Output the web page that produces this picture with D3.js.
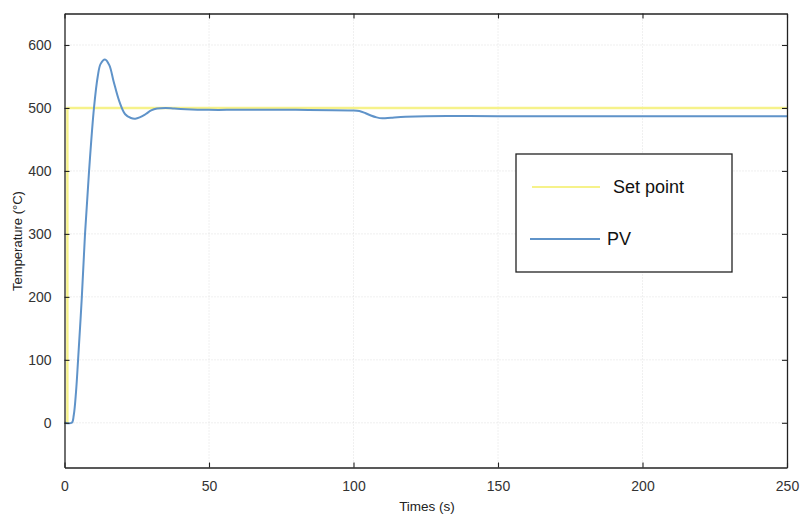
<!DOCTYPE html>
<html><head><meta charset="utf-8">
<script src="https://cdn.jsdelivr.net/npm/d3@7"></script>
<style>body{margin:0;background:#fff}svg{display:block}</style>
</head><body>
<svg id="c" width="800" height="515"></svg>
<script>
const spTime = [0, 1, 1, 250];
const spValue = [0, 0, 500, 500];
const pvTime = [0,2.5,3.2,4,4.7,6,7.1,8.5,10.2,11.5,12.5,14,15.5,17,19,21,23,24.5,26,28,30,32,35,38,42,50,60,80,100,102,104,106,108,110,113,118,125,150,200,250];
const pvValue = [0,0,12,50,100,200,300,400,500,550,570,577,568,542,510,490,484,483,485,490,496,499,500,499,498,497,497,497,496,495,492,488,485,483.5,484.5,486,487,487,487,487];
const xTicks = [0,50,100,150,200,250];
const yTicks = [0,100,200,300,400,500,600];
const seriesNames = ["Set point","PV"];

const svg = d3.select("#c");
const L=64.5, R=787, T=13.5, B=467.5;
const x = d3.scaleLinear().domain([0,250]).range([L,R]);
const y = d3.scaleLinear().domain([-71,650]).range([B,T]);

// grid
const g = svg.append("g");
g.selectAll(".gx").data(xTicks.slice(1,-1)).enter().append("line")
 .attr("x1",d=>x(d)).attr("x2",d=>x(d)).attr("y1",T).attr("y2",B)
 .attr("stroke","#d8d8d8").attr("stroke-width",0.8).attr("stroke-dasharray","1,2");
g.selectAll(".gy").data(yTicks).enter().append("line")
 .attr("y1",d=>y(d)).attr("y2",d=>y(d)).attr("x1",L).attr("x2",R)
 .attr("stroke","#d8d8d8").attr("stroke-width",0.8).attr("stroke-dasharray","1,2");

// lines
const sp = spTime.map((t,i)=>[t,spValue[i]]);
const pv = pvTime.map((t,i)=>[t,pvValue[i]]);
svg.append("path").datum(sp)
 .attr("d",d3.line().x(d=>x(d[0])).y(d=>y(d[1])))
 .attr("fill","none").attr("stroke","#f6f28a").attr("stroke-width",2.4);
svg.append("path").datum(pv)
 .attr("d",d3.line().x(d=>x(d[0])).y(d=>y(d[1])).curve(d3.curveCatmullRom.alpha(0.5)))
 .attr("fill","none").attr("stroke","#5f93c9").attr("stroke-width",2);

// axes
const fmt = d3.format("d");
const axB = svg.append("g").attr("transform",`translate(0,${B})`)
 .call(d3.axisBottom(x).tickValues(xTicks).tickSizeInner(-5).tickSizeOuter(0).tickPadding(14).tickFormat(fmt));
const axT = svg.append("g").attr("transform",`translate(0,${T})`)
 .call(d3.axisTop(x).tickValues(xTicks).tickSizeInner(-5).tickSizeOuter(0).tickFormat(""));
const axL = svg.append("g").attr("transform",`translate(${L},0)`)
 .call(d3.axisLeft(y).tickValues(yTicks).tickSizeInner(-5).tickSizeOuter(0).tickPadding(13).tickFormat(fmt));
const axR = svg.append("g").attr("transform",`translate(${R},0)`)
 .call(d3.axisRight(y).tickValues(yTicks).tickSizeInner(-5).tickSizeOuter(0).tickFormat(""));
[axB,axT,axL,axR].forEach(a=>{
  a.selectAll("path").attr("stroke","#222").attr("stroke-width",1.3);
  a.selectAll("line").attr("stroke","#222").attr("stroke-width",1.1);
  a.selectAll("text").attr("font-family","Liberation Sans, Arial, sans-serif").attr("font-size",14).attr("fill","#333");
});

svg.append("text").attr("x",427).attr("y",511).attr("text-anchor","middle")
 .attr("font-family","Liberation Sans, Arial, sans-serif").attr("font-size",13.5).attr("fill","#222").text("Times (s)");
svg.append("text").attr("transform","translate(22,241) rotate(-90)").attr("text-anchor","middle")
 .attr("font-family","Liberation Sans, Arial, sans-serif").attr("font-size",13).attr("fill","#222").text("Temperature (°C)");

// legend
const lg = svg.append("g");
lg.append("rect").attr("x",516).attr("y",154).attr("width",216).attr("height",118)
 .attr("fill","#fff").attr("stroke","#222").attr("stroke-width",1.3);
const colors = ["#f6f28a","#5f93c9"];
const ly = [187,239], lx1=[532,530], ltx=[613,607];
seriesNames.forEach((n,i)=>{
  lg.append("line").attr("x1",lx1[i]).attr("x2",600).attr("y1",ly[i]).attr("y2",ly[i])
    .attr("stroke",colors[i]).attr("stroke-width",2);
  lg.append("text").attr("x",ltx[i]).attr("y",ly[i]+6).attr("font-family","Liberation Sans, Arial, sans-serif")
    .attr("font-size",18).attr("fill","#111").text(n);
});
</script>
</body></html>
